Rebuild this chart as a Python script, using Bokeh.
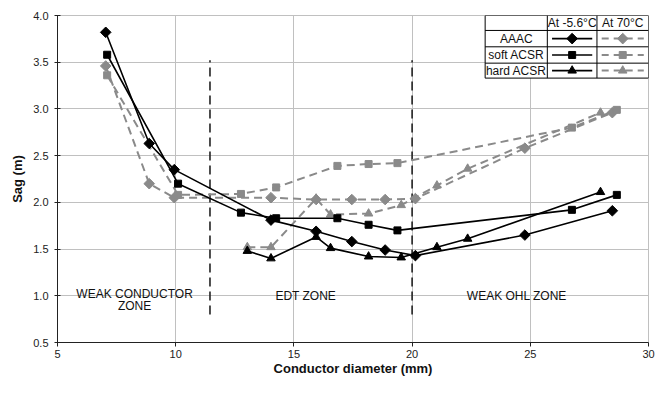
import numpy as np
from bokeh.plotting import figure
from bokeh.models import Range1d, FixedTicker, NumeralTickFormatter
from bokeh.core.properties import value
from bokeh.embed import file_html
from bokeh.resources import INLINE

# ---------------- data ----------------
aaac_x = [7.04, 8.88, 9.94, 14.03, 15.94, 17.45, 18.86, 20.14, 24.77, 28.47]
aaac_cold = [3.82, 2.63, 2.35, 1.81, 1.69, 1.58, 1.49, 1.43, 1.65, 1.91]
aaac_hot = [3.46, 2.20, 2.05, 2.05, 2.03, 2.03, 2.03, 2.04, 2.58, 2.96]

soft_x = [7.10, 10.10, 12.76, 14.25, 16.84, 18.16, 19.38, 26.76, 28.66]
soft_cold = [3.58, 2.20, 1.89, 1.83, 1.83, 1.76, 1.70, 1.92, 2.08]
soft_hot = [3.36, 2.08, 2.09, 2.16, 2.39, 2.41, 2.42, 2.80, 2.99]

hard_x = [13.03, 14.03, 15.94, 16.55, 18.16, 19.54, 21.05, 22.35, 27.97]
hard_cold = [1.48, 1.40, 1.63, 1.51, 1.42, 1.41, 1.52, 1.61, 2.11]
hard_hot = [1.52, 1.52, 2.04, 1.87, 1.88, 1.97, 2.18, 2.36, 2.96]

zone_bounds = [11.45, 20.0]
zone_texts = ["WEAK CONDUCTOR", "ZONE", "EDT ZONE", "WEAK OHL  ZONE"]
x_ticks = [5, 10, 15, 20, 25, 30]
y_ticks = [0.5, 1.0, 1.5, 2.0, 2.5, 3.0, 3.5, 4.0]
series_names = ["AAAC", "soft ACSR", "hard ACSR"]
col_headers = ["At -5.6°C", "At 70°C"]

FONT = "Liberation Sans"
BLACK = "#000000"
GRAY = "#8a8a8a"
GRID = "#c0c0c0"

p = figure(width=656, height=378, output_backend="svg", toolbar_location=None,
           x_range=Range1d(5, 30), y_range=Range1d(0.5, 4.0),
           min_border_left=57, min_border_right=8, min_border_top=15,
           min_border_bottom=33)
p.outline_line_color = GRID
p.background_fill_color = "white"
p.border_fill_color = "white"

for g in (p.xgrid, p.ygrid):
    g.grid_line_color = GRID
    g.grid_line_width = 1
p.xgrid.ticker = FixedTicker(ticks=x_ticks)
p.ygrid.ticker = FixedTicker(ticks=y_ticks)

p.xaxis.ticker = FixedTicker(ticks=x_ticks)
p.yaxis.ticker = FixedTicker(ticks=y_ticks)
p.yaxis.formatter = NumeralTickFormatter(format="0.0")
for ax in (p.xaxis[0], p.yaxis[0]):
    ax.axis_line_color = "#222222"
    ax.axis_line_width = 1
    ax.major_tick_line_color = "#222222"
    ax.minor_tick_line_color = None
    ax.major_label_text_font = FONT
    ax.major_label_text_font_size = "11px"
    ax.major_label_text_color = "#222222"
    ax.axis_label_text_font = FONT
    ax.axis_label_text_font_size = "13px"
    ax.axis_label_text_font_style = "bold"
    ax.axis_label_text_color = "#111111"
p.xaxis.major_tick_out = 4
p.xaxis.major_tick_in = 0
p.yaxis.major_tick_out = 3
p.yaxis.major_tick_in = 3
p.xaxis.major_label_standoff = 3
p.xaxis.axis_label_standoff = 0
p.yaxis.major_label_standoff = 6
p.yaxis.axis_label_standoff = 5
p.xaxis.axis_label = "Conductor diameter (mm)"
p.yaxis.axis_label = "Sag (m)"

# zone boundaries
p.segment(x0=zone_bounds, y0=[0.8, 0.8], x1=zone_bounds, y1=[3.52, 3.52],
          line_color="#222222", line_width=1.6, line_dash="9 5")

# zone labels
p.text(x=[8.26, 8.26, 15.5, 24.5], y=[1.02, 0.89, 1.0, 1.0], text=zone_texts,
       text_font=value(FONT), text_font_size="12px", text_align="center",
       text_baseline="middle", text_color="#111111")

DASH = "8 5"
markers = [("diamond", aaac_x, aaac_cold, aaac_hot),
           ("square", soft_x, soft_cold, soft_hot),
           ("triangle", hard_x, hard_cold, hard_hot)]


def draw_marker(kind, xs, ys, color):
    if kind == "diamond":
        p.scatter(xs, ys, marker="square", size=7.5, angle=np.pi / 4,
                  fill_color=color, line_color=color)
    elif kind == "square":
        p.scatter(xs, ys, marker="square", size=7, fill_color=color, line_color=color)
    else:
        p.scatter(xs, ys, marker="triangle", size=8.5, fill_color=color, line_color=color)


# hot series (dashed gray) first, cold on top
for kind, xs, cold, hot in markers:
    p.line(xs, hot, line_color=GRAY, line_width=2, line_dash=DASH)
    draw_marker(kind, xs, hot, GRAY)
for kind, xs, cold, hot in markers:
    p.line(xs, cold, line_color=BLACK, line_width=1.6)
    draw_marker(kind, xs, cold, BLACK)

# ---------------- legend table (data coordinates) ----------------
cx = [23.09, 25.72, 27.82, 30.0]
ry = [4.0, 3.84, 3.665, 3.49, 3.33]
p.quad(left=[cx[0]], right=[cx[-1]], top=[ry[0]], bottom=[ry[-1]],
       fill_color="white", line_color=BLACK, line_width=1)
p.segment(x0=[cx[1], cx[2]], y0=[ry[0], ry[0]], x1=[cx[1], cx[2]], y1=[ry[-1], ry[-1]],
          line_color=BLACK, line_width=1)
p.segment(x0=[cx[0]] * 3, y0=ry[1:4], x1=[cx[-1]] * 3, y1=ry[1:4],
          line_color=BLACK, line_width=1)
p.text(x=[(cx[1] + cx[2]) / 2, (cx[2] + cx[3]) / 2], y=[(ry[0] + ry[1]) / 2] * 2,
       text=col_headers, text_font=value(FONT), text_font_size="12px",
       text_align="center", text_baseline="middle", text_color="#111111")
row_mid = [(ry[i] + ry[i + 1]) / 2 for i in range(1, 4)]
p.text(x=[(cx[0] + cx[1]) / 2] * 3, y=row_mid, text=series_names,
       text_font=value(FONT), text_font_size="12px", text_align="center",
       text_baseline="middle", text_color="#111111")
for (kind, _, _, _), ym in zip(markers, row_mid):
    p.line([cx[1] + 0.2, cx[2] - 0.2], [ym, ym], line_color=BLACK, line_width=1.6)
    draw_marker(kind, [(cx[1] + cx[2]) / 2], [ym], BLACK)
    p.line([cx[2] + 0.2, cx[3] - 0.2], [ym, ym], line_color=GRAY, line_width=2,
           line_dash="7 5")
    draw_marker(kind, [(cx[2] + cx[3]) / 2], [ym], GRAY)

open("out.html", "w").write(file_html(p, INLINE))
